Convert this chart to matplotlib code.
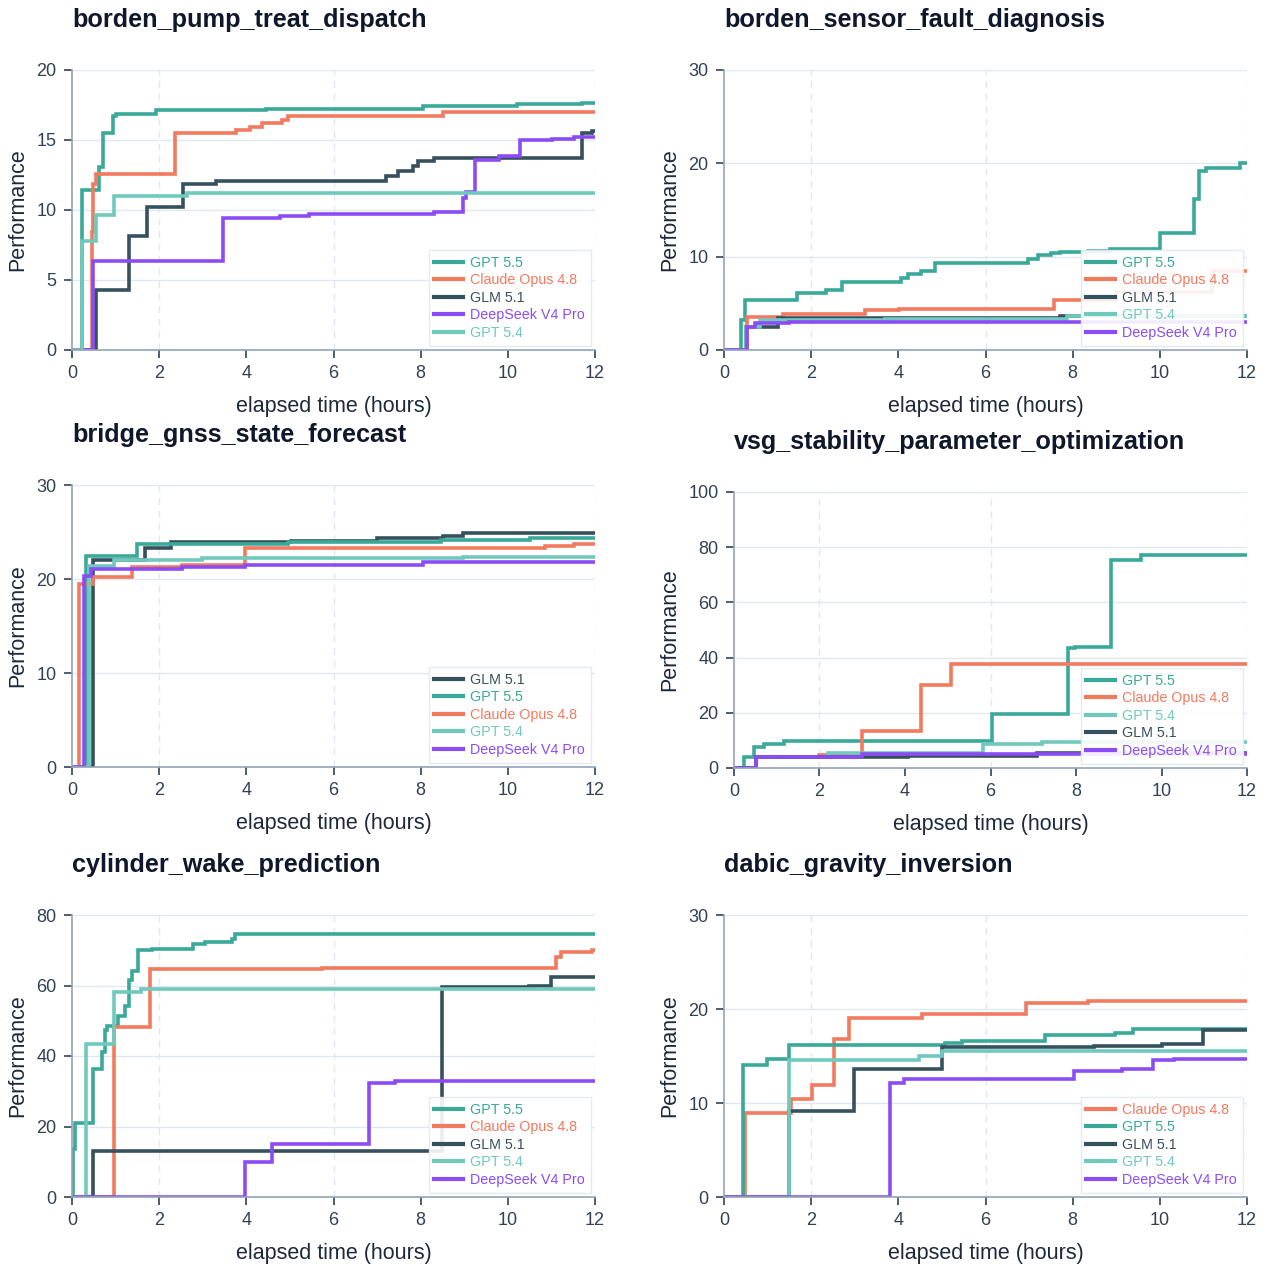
import numpy as np
import matplotlib
matplotlib.use("Agg")
import matplotlib.pyplot as plt

plt.rcParams.update({
    "font.family": ["Liberation Sans", "DejaVu Sans"],
    "axes.linewidth": 1.2,
})

# Model colours
COLORS = {
    "GPT 5.5": "#3aa99a",
    "Claude Opus 4.8": "#f27a5e",
    "GLM 5.1": "#36515e",
    "DeepSeek V4 Pro": "#8b4cf6",
    "GPT 5.4": "#6fc9bd",
}

# ---- data: (times in hours, performance) for each task / model ----
pump_order = ["GPT 5.5", "Claude Opus 4.8", "GLM 5.1", "DeepSeek V4 Pro", "GPT 5.4"]
pump_gpt55_t = [0, 0.23, 0.62, 0.72, 0.93, 1.01, 1.93, 4.45, 8.06, 10.2, 11.7, 12]
pump_gpt55_v = [0, 11.43, 13.04, 15.53, 16.72, 16.84, 17.13, 17.24, 17.43, 17.55, 17.62, 17.62]
pump_claude_t = [0, 0.45, 0.49, 0.54, 2.36, 3.76, 4.09, 4.37, 4.82, 4.95, 8.52, 12]
pump_claude_v = [0, 8.4, 11.85, 12.57, 15.53, 15.7, 15.94, 16.18, 16.41, 16.72, 17.0, 17.0]
pump_glm_t = [0, 0.54, 1.3, 1.71, 2.55, 3.31, 7.2, 7.49, 7.82, 7.94, 8.31, 11.71, 11.92, 12]
pump_glm_v = [0, 4.3, 8.17, 10.24, 11.85, 12.09, 12.45, 12.8, 13.16, 13.52, 13.68, 15.53, 15.65, 15.65]
pump_ds_t = [0, 0.49, 3.47, 4.78, 5.44, 8.31, 8.97, 9.05, 9.25, 9.79, 10.28, 11.02, 11.51, 12]
pump_ds_v = [0, 6.39, 9.41, 9.6, 9.71, 9.83, 10.86, 11.26, 13.56, 13.87, 14.99, 15.1, 15.18, 15.18]
pump_gpt54_t = [0, 0.23, 0.56, 0.97, 2.65, 12]
pump_gpt54_v = [0, 7.81, 9.64, 11.02, 11.19, 11.19]

sensor_order = ["GPT 5.5", "Claude Opus 4.8", "GLM 5.1", "GPT 5.4", "DeepSeek V4 Pro"]
sensor_gpt55_t = [0, 0.39, 0.48, 1.68, 2.34, 2.7, 4.06, 4.22, 4.51, 4.84, 6.97, 7.21, 7.5,
                  7.7, 8.36, 8.85, 10.0, 10.78, 10.9, 11.07, 11.84, 12]
sensor_gpt55_v = [0, 3.17, 5.38, 6.09, 6.45, 7.27, 7.73, 8.16, 8.44, 9.37, 9.76, 10.22, 10.44,
                  10.51, 10.58, 10.87, 12.54, 16.17, 19.2, 19.49, 19.99, 19.99]
sensor_claude_t = [0, 0.53, 1.35, 3.24, 4.02, 7.58, 9.0, 11.2, 12]
sensor_claude_v = [0, 3.53, 3.81, 4.24, 4.42, 5.38, 6.2, 8.5, 8.5]
sensor_glm_t = [0, 0.5, 1.25, 7.7, 12]
sensor_glm_v = [0, 2.5, 3.46, 3.67, 3.67]
sensor_gpt54_t = [0, 0.5, 0.82, 3.69, 7.87, 12]
sensor_gpt54_v = [0, 2.5, 3.17, 3.35, 3.6, 3.6]
sensor_ds_t = [0, 0.53, 0.7, 1.48, 12]
sensor_ds_v = [0, 2.46, 2.89, 2.96, 2.96]

gnss_order = ["GLM 5.1", "GPT 5.5", "Claude Opus 4.8", "GPT 5.4", "DeepSeek V4 Pro"]
gnss_glm_t = [0, 0.49, 1.67, 2.28, 5.03, 7.0, 8.52, 8.97, 12]
gnss_glm_v = [0, 22.0, 23.26, 23.98, 24.05, 24.33, 24.58, 24.87, 24.87]
gnss_gpt55_t = [0, 0.31, 1.48, 4.95, 8.47, 10.52, 12]
gnss_gpt55_v = [0, 22.44, 23.73, 23.98, 24.15, 24.33, 24.33]
gnss_claude_t = [0, 0.15, 0.48, 1.38, 2.53, 3.96, 10.85, 11.51, 12]
gnss_claude_v = [0, 19.52, 20.16, 21.3, 21.48, 23.26, 23.51, 23.73, 23.73]
gnss_gpt54_t = [0, 0.39, 0.97, 2.98, 8.97, 12]
gnss_gpt54_v = [0, 21.41, 22.0, 22.19, 22.3, 22.3]
gnss_ds_t = [0, 0.27, 0.43, 2.53, 3.96, 8.06, 12]
gnss_ds_v = [0, 20.3, 21.09, 21.23, 21.48, 21.8, 21.8]

vsg_order = ["GPT 5.5", "Claude Opus 4.8", "GPT 5.4", "GLM 5.1", "DeepSeek V4 Pro"]
vsg_gpt55_t = [0, 0.23, 0.46, 0.71, 1.17, 6.03, 7.81, 7.98, 8.83, 9.53, 12]
vsg_gpt55_v = [0, 3.99, 7.6, 8.8, 9.78, 19.7, 43.5, 43.8, 75.2, 77.05, 77.05]
vsg_claude_t = [0, 0.52, 2.0, 3.0, 4.38, 5.07, 12]
vsg_claude_v = [0, 4.0, 4.6, 13.4, 30.07, 37.7, 37.7]
vsg_gpt54_t = [0, 0.52, 2.21, 5.83, 7.21, 12]
vsg_gpt54_v = [0, 4.0, 5.43, 8.8, 9.3, 9.3]
vsg_glm_t = [0, 0.52, 3.0, 4.08, 7.08, 12]
vsg_glm_v = [0, 4.0, 4.0, 4.47, 5.43, 5.43]
vsg_ds_t = [0, 0.52, 3.0, 5.92, 12]
vsg_ds_v = [0, 4.0, 4.95, 5.2, 5.2]

wake_order = ["GPT 5.5", "Claude Opus 4.8", "GLM 5.1", "GPT 5.4", "DeepSeek V4 Pro"]
wake_gpt55_t = [0, 0.02, 0.07, 0.48, 0.68, 0.75, 0.8, 1.05, 1.21, 1.3, 1.38, 1.52, 1.83,
                2.77, 3.06, 3.68, 3.73, 12]
wake_gpt55_v = [0, 13.6, 20.9, 36.4, 41.1, 47.3, 48.5, 51.3, 54.2, 61.6, 64.0, 70.1, 70.3,
                71.7, 72.2, 73.2, 74.7, 74.7]
wake_claude_t = [0, 0.97, 1.79, 5.73, 11.1, 11.22, 11.92, 12]
wake_claude_v = [0, 48.3, 64.6, 65.1, 68.0, 69.6, 70.1, 70.1]
wake_glm_t = [0, 0.48, 8.49, 10.48, 11.0, 12]
wake_glm_v = [0, 13.1, 59.5, 59.9, 62.3, 62.3]
wake_gpt54_t = [0, 0.31, 0.97, 1.58, 12]
wake_gpt54_v = [0, 43.3, 58.1, 58.9, 58.9]
wake_ds_t = [0, 3.98, 4.58, 6.82, 7.41, 12]
wake_ds_v = [0, 9.8, 15.0, 32.3, 32.8, 32.8]

dabic_order = ["Claude Opus 4.8", "GPT 5.5", "GLM 5.1", "GPT 5.4", "DeepSeek V4 Pro"]
dabic_claude_t = [0, 0.49, 1.54, 2.03, 2.52, 2.87, 4.55, 6.93, 8.36, 12]
dabic_claude_v = [0, 8.97, 10.39, 11.96, 16.83, 19.07, 19.43, 20.68, 20.85, 20.85]
dabic_gpt55_t = [0, 0.43, 0.98, 1.49, 5.08, 5.45, 7.36, 8.98, 9.39, 12]
dabic_gpt55_v = [0, 14.09, 14.63, 16.19, 16.37, 16.58, 17.26, 17.44, 17.86, 17.86]
dabic_glm_t = [0, 1.49, 2.99, 5.0, 8.48, 10.04, 10.98, 12]
dabic_glm_v = [0, 9.18, 13.67, 15.94, 16.05, 16.23, 17.72, 17.72]
dabic_gpt54_t = [0, 1.49, 4.47, 5.0, 12]
dabic_gpt54_v = [0, 14.59, 15.05, 15.48, 15.48]
dabic_ds_t = [0, 3.81, 4.14, 8.02, 9.14, 9.84, 10.33, 12]
dabic_ds_v = [0, 12.1, 12.56, 13.45, 13.63, 14.59, 14.7, 14.7]

TASKS = [
    ("borden_pump_treat_dispatch", pump_order, {
        "GPT 5.5": (pump_gpt55_t, pump_gpt55_v),
        "Claude Opus 4.8": (pump_claude_t, pump_claude_v),
        "GLM 5.1": (pump_glm_t, pump_glm_v),
        "DeepSeek V4 Pro": (pump_ds_t, pump_ds_v),
        "GPT 5.4": (pump_gpt54_t, pump_gpt54_v),
    }, [0, 5, 10, 15, 20]),
    ("borden_sensor_fault_diagnosis", sensor_order, {
        "GPT 5.5": (sensor_gpt55_t, sensor_gpt55_v),
        "Claude Opus 4.8": (sensor_claude_t, sensor_claude_v),
        "GLM 5.1": (sensor_glm_t, sensor_glm_v),
        "GPT 5.4": (sensor_gpt54_t, sensor_gpt54_v),
        "DeepSeek V4 Pro": (sensor_ds_t, sensor_ds_v),
    }, [0, 10, 20, 30]),
    ("bridge_gnss_state_forecast", gnss_order, {
        "GLM 5.1": (gnss_glm_t, gnss_glm_v),
        "GPT 5.5": (gnss_gpt55_t, gnss_gpt55_v),
        "Claude Opus 4.8": (gnss_claude_t, gnss_claude_v),
        "GPT 5.4": (gnss_gpt54_t, gnss_gpt54_v),
        "DeepSeek V4 Pro": (gnss_ds_t, gnss_ds_v),
    }, [0, 10, 20, 30]),
    ("vsg_stability_parameter_optimization", vsg_order, {
        "GPT 5.5": (vsg_gpt55_t, vsg_gpt55_v),
        "Claude Opus 4.8": (vsg_claude_t, vsg_claude_v),
        "GPT 5.4": (vsg_gpt54_t, vsg_gpt54_v),
        "GLM 5.1": (vsg_glm_t, vsg_glm_v),
        "DeepSeek V4 Pro": (vsg_ds_t, vsg_ds_v),
    }, [0, 20, 40, 60, 80, 100]),
    ("cylinder_wake_prediction", wake_order, {
        "GPT 5.5": (wake_gpt55_t, wake_gpt55_v),
        "Claude Opus 4.8": (wake_claude_t, wake_claude_v),
        "GLM 5.1": (wake_glm_t, wake_glm_v),
        "GPT 5.4": (wake_gpt54_t, wake_gpt54_v),
        "DeepSeek V4 Pro": (wake_ds_t, wake_ds_v),
    }, [0, 20, 40, 60, 80]),
    ("dabic_gravity_inversion", dabic_order, {
        "Claude Opus 4.8": (dabic_claude_t, dabic_claude_v),
        "GPT 5.5": (dabic_gpt55_t, dabic_gpt55_v),
        "GLM 5.1": (dabic_glm_t, dabic_glm_v),
        "GPT 5.4": (dabic_gpt54_t, dabic_gpt54_v),
        "DeepSeek V4 Pro": (dabic_ds_t, dabic_ds_v),
    }, [0, 10, 20, 30]),
]

X_TICKS = [0, 2, 4, 6, 8, 10, 12]
MARK_HOURS = [2, 6, 12]

# axes boxes in pixels: left, right, top, bottom
W, H = 1270, 1266
BOXES = [
    (72, 595, 70, 350),
    (724, 1247, 70, 350),
    (72, 595, 485, 767),
    (734, 1247, 492, 768),
    (72, 595, 915, 1197),
    (724, 1247, 915, 1197),
]

SPINE = "#94a3b8"
TICK_TXT = "#334155"
GRID = "#e2e8f0"

fig = plt.figure(figsize=(W / 100, H / 100), dpi=100)

for (title, order, series, yticks), (l, r, t, b) in zip(TASKS, BOXES):
    ax = fig.add_axes([l / W, (H - b) / H, (r - l) / W, (b - t) / H])
    for y in yticks[1:]:
        ax.axhline(y, color=GRID, lw=1.0, zorder=0)
    for x in MARK_HOURS:
        ax.axvline(x, color=GRID, lw=1.0, ls=(0, (5, 4)), zorder=0)

    for name in order:
        tt, vv = series[name]
        ax.plot(tt, vv, drawstyle="steps-post", color=COLORS[name], lw=2.6,
                label=name, solid_joinstyle="miter", zorder=2)

    ax.set_xlim(0, 12)
    ax.set_ylim(yticks[0], yticks[-1])
    ax.set_xticks(X_TICKS)
    ax.set_yticks(yticks)
    ax.tick_params(labelsize=13, colors=TICK_TXT, length=6, width=1.2, direction="out", pad=5)
    for side in ("top", "right"):
        ax.spines[side].set_visible(False)
    for side in ("left", "bottom"):
        ax.spines[side].set_color(SPINE)
    ax.set_xlabel("elapsed time (hours)", fontsize=15.5, color="#1e293b", labelpad=10)
    ax.set_ylabel("Performance", fontsize=15.5, color="#1e293b", labelpad=6)
    ax.set_title(title, loc="left", fontsize=18.2, fontweight="bold", color="#0f172a", pad=31)

    leg = ax.legend(loc="lower right", fontsize=10.3, frameon=True, handlelength=2.0,
                    handletextpad=0.5, borderpad=0.4, labelspacing=0.25,
                    borderaxespad=0.3, fancybox=False)
    leg.get_frame().set_edgecolor(GRID)
    leg.get_frame().set_linewidth(1.0)
    leg.get_frame().set_alpha(0.9)
    for line, txt in zip(leg.get_lines(), leg.get_texts()):
        line.set_linewidth(3.0)
        txt.set_color(line.get_color())

fig.savefig("out.png", dpi=100, facecolor="white")
